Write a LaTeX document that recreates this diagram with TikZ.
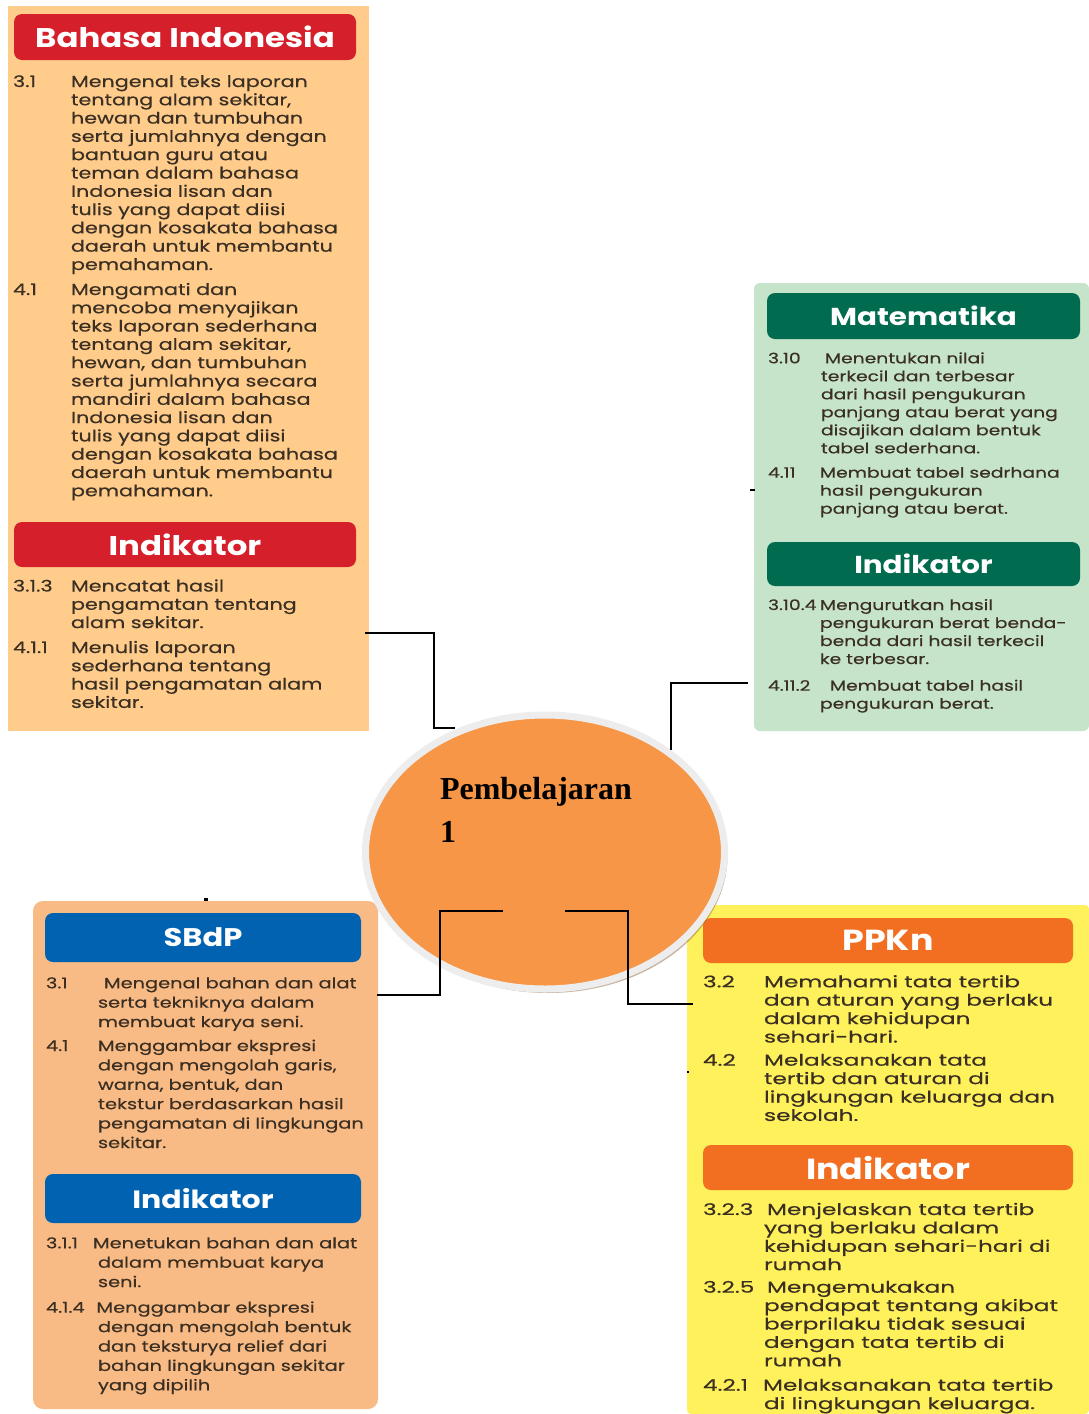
\documentclass[tikz,border=0pt]{standalone}
\usepackage{fontspec}
\usetikzlibrary{shapes.geometric,shadows}
\newfontfamily\bodyA[FakeStretch=1.3,FakeBold=0.4]{Poppins}
\newfontfamily\bodyB[FakeStretch=1.45,FakeBold=0.4]{Poppins}
\newfontfamily\hdrfont[FakeStretch=1.2]{Poppins}
\newfontfamily\titlefont{Liberation Serif}
\definecolor{bibg}{HTML}{FFCC8C}
\definecolor{bihd}{HTML}{D51F2B}
\definecolor{mtbg}{HTML}{C6E4CA}
\definecolor{mthd}{HTML}{006B4E}
\definecolor{sbbg}{HTML}{F9BB85}
\definecolor{sbhd}{HTML}{0062B0}
\definecolor{ppbg}{HTML}{FEF15C}
\definecolor{pphd}{HTML}{F26F22}
\definecolor{ellc}{HTML}{F79646}
\definecolor{rimc}{HTML}{EDEDED}
\definecolor{bodyc}{HTML}{3A2F22}
\newcommand\kditem[6]{%
  \node[numtxt] (#1n) at (#2,#4) {#5};
  \node[bodytxt] (#1t) at (#3,{#4-0.7*\bs}) {\strut#6};}
\begin{document}
\begin{tikzpicture}[x=1pt,y=-1pt,
  panel/.style={anchor=north west, inner sep=0, outer sep=0},
  hdr/.style={rounded corners=8pt, inner sep=0, outer sep=0, text=white,
    font=\hdrfont\bfseries\fontsize{\hs}{\hs}\selectfont},
  numtxt/.style={anchor=base west, inner sep=0, outer sep=0, text=bodyc,
    font=\bodyfam\fontsize{\fs}{\bs}\selectfont},
  bodytxt/.style={anchor=north west, inner sep=0, outer sep=0, align=left, text=bodyc,
    font=\bodyfam\fontsize{\fs}{\bs}\selectfont},
  conn/.style={draw=black, line width=2.2pt},
  tick/.style={fill=black}]
\useasboundingbox (0,0) rectangle (1089,1414);
\fill[white] (0,0) rectangle (1089,1414);

% ---------- Bahasa Indonesia ----------
\node[panel, fill=bibg, minimum width=361pt, minimum height=725pt] (bi) at (8,6) {};
\def\hs{27}
\node[hdr, fill=bihd, minimum width=342pt, minimum height=46pt] (bih) at (185,37) {Bahasa Indonesia};
\node[hdr, fill=bihd, minimum width=342pt, minimum height=45pt] (bii) at (185,544.5) {Indikator};
\let\bodyfam\bodyA
\def\fs{15.9}\def\bs{18.3}
\kditem{bia}{13}{71}{87}{3.1}{Mengenal teks laporan\\tentang alam sekitar,\\hewan dan tumbuhan\\serta jumlahnya dengan\\bantuan guru atau\\teman dalam bahasa\\Indonesia lisan dan\\tulis yang dapat diisi\\dengan kosakata bahasa\\daerah untuk membantu\\pemahaman.}
\kditem{bib}{13}{71}{295}{4.1}{Mengamati dan\\mencoba menyajikan\\teks laporan sederhana\\tentang alam sekitar,\\hewan, dan tumbuhan\\serta jumlahnya secara\\mandiri dalam bahasa\\Indonesia lisan dan\\tulis yang dapat diisi\\dengan kosakata bahasa\\daerah untuk membantu\\pemahaman.}
\kditem{bic}{13}{71}{591.5}{3.1.3}{Mencatat hasil\\pengamatan tentang\\alam sekitar.}
\kditem{bid}{13}{71}{653}{4.1.1}{Menulis laporan\\sederhana tentang\\hasil pengamatan alam\\sekitar.}

% ---------- Matematika ----------
\node[panel, fill=mtbg, minimum width=335pt, minimum height=448pt, rounded corners=6pt] (mt) at (754,283) {};
\def\hs{24.5}
\node[hdr, fill=mthd, minimum width=313pt, minimum height=46pt] (mth) at (923.5,316) {Matematika};
\node[hdr, fill=mthd, minimum width=313pt, minimum height=44pt] (mti) at (923.5,564) {Indikator};
\def\fs{14.4}\def\bs{18}
\kditem{mta}{768}{821}{363.3}{3.10}{\hspace*{4pt}Menentukan nilai\\terkecil dan terbesar\\dari hasil pengukuran\\panjang atau berat yang\\disajikan dalam bentuk\\tabel sederhana.}
\kditem{mtb}{768}{820}{477.7}{4.11}{Membuat tabel sedrhana\\hasil pengukuran\\panjang atau berat.}
\kditem{mtc}{768}{820}{610}{3.10.4}{Mengurutkan hasil\\pengukuran berat benda-\\benda dari hasil terkecil\\ke terbesar.}
\kditem{mtd}{768}{820}{690.7}{4.11.2}{\hspace*{10pt}Membuat tabel hasil\\pengukuran berat.}

% ---------- SBdP ----------
\node[panel, fill=sbbg, minimum width=345pt, minimum height=508pt, rounded corners=10pt] (sb) at (33,901) {};
\def\hs{25.5}
\node[hdr, fill=sbhd, minimum width=316pt, minimum height=49pt] (sbh) at (203,937.5) {SBdP};
\def\hs{25}
\node[hdr, fill=sbhd, minimum width=316pt, minimum height=49pt] (sbi) at (203,1198.5) {Indikator};
\def\fs{14.9}\def\bs{19.4}
\kditem{sba}{46}{98}{988.3}{3.1}{\hspace*{6pt}Mengenal bahan dan alat\\serta tekniknya dalam\\membuat karya seni.}
\kditem{sbb}{46}{98}{1051}{4.1}{Menggambar ekspresi\\dengan mengolah garis,\\warna, bentuk, dan\\tekstur berdasarkan hasil\\pengamatan di lingkungan\\sekitar.}
\kditem{sbc}{46}{98}{1248.3}{3.1.1}{\hspace*{-5pt}Menetukan bahan dan alat\\dalam membuat karya\\seni.}
\kditem{sbd}{46}{98}{1312.7}{4.1.4}{\hspace*{-1.5pt}Menggambar ekspresi\\dengan mengolah bentuk\\dan teksturya relief dari\\bahan lingkungan sekitar\\yang dipilih}

% ---------- PPKn ----------
\node[panel, fill=ppbg, minimum width=402pt, minimum height=509pt, rounded corners=4pt] (pp) at (687,905) {};
\def\hs{29}
\node[hdr, fill=pphd, minimum width=370pt, minimum height=45pt] (pph) at (888,940.5) {PPKn};
\node[hdr, fill=pphd, minimum width=370pt, minimum height=45pt] (ppi) at (888,1167.5) {Indikator};
\let\bodyfam\bodyB
\def\fs{16}\def\bs{18.4}
\kditem{ppa}{703}{764}{987.3}{3.2}{Memahami tata tertib\\dan aturan yang berlaku\\dalam kehidupan\\sehari-hari.}
\kditem{ppb}{703}{764}{1065.7}{4.2}{Melaksanakan tata\\tertib dan aturan di\\lingkungan keluarga dan\\sekolah.}
\kditem{ppc}{703}{764}{1215}{3.2.3}{\hspace*{3pt}Menjelaskan tata tertib\\yang berlaku dalam\\kehidupan sehari-hari di\\rumah}
\kditem{ppd}{703}{764}{1292.7}{3.2.5}{\hspace*{3pt}Mengemukakan\\pendapat tentang akibat\\berprilaku tidak sesuai\\dengan tata tertib di\\rumah}
\kditem{ppe}{703}{764}{1390.7}{4.2.1}{\hspace*{-1pt}Melaksanakan tata tertib\\di lingkungan keluarga.}

% ---------- centre ellipse ----------
\node[ellipse, minimum width=359pt, minimum height=274pt, inner sep=0,
  fill=ellc, draw=rimc, line width=7pt,
  drop shadow={shadow xshift=3pt, shadow yshift=-4pt, opacity=0.45, fill=brown!70!black}] (c) at (545,852) {};

% ---------- connectors ----------
\coordinate (bi-out) at (365,633);
\coordinate (c-nw) at (455,728);
\coordinate (mt-out) at (748,683);
\coordinate (c-ne) at (671,750);
\coordinate (sb-out) at (377,995);
\coordinate (c-sw) at (503,911);
\coordinate (c-se) at (565,911);
\coordinate (pp-out) at (693,1004);
\draw[conn] (bi-out) -- ++(69,0) |- (c-nw);
\draw[conn] (mt-out) -| (c-ne);
\draw[conn] (sb-out) -- ++(63,0) |- (c-sw);
\draw[conn] (c-se) -- ++(63,0) |- (pp-out);

% small marks
\fill[tick] (204,898) rectangle (208,901);
\fill[tick] (750,489) rectangle (755,491);
\fill[tick] (687,1071) rectangle (689,1073);

% ---------- title ----------
\node[anchor=north west, inner sep=0, outer sep=0, align=left,
  font=\titlefont\bfseries\fontsize{32}{43}\selectfont] (title) at (440,{799-0.7*43}) {\strut Pembelajaran\\1};
\end{tikzpicture}
\end{document}
